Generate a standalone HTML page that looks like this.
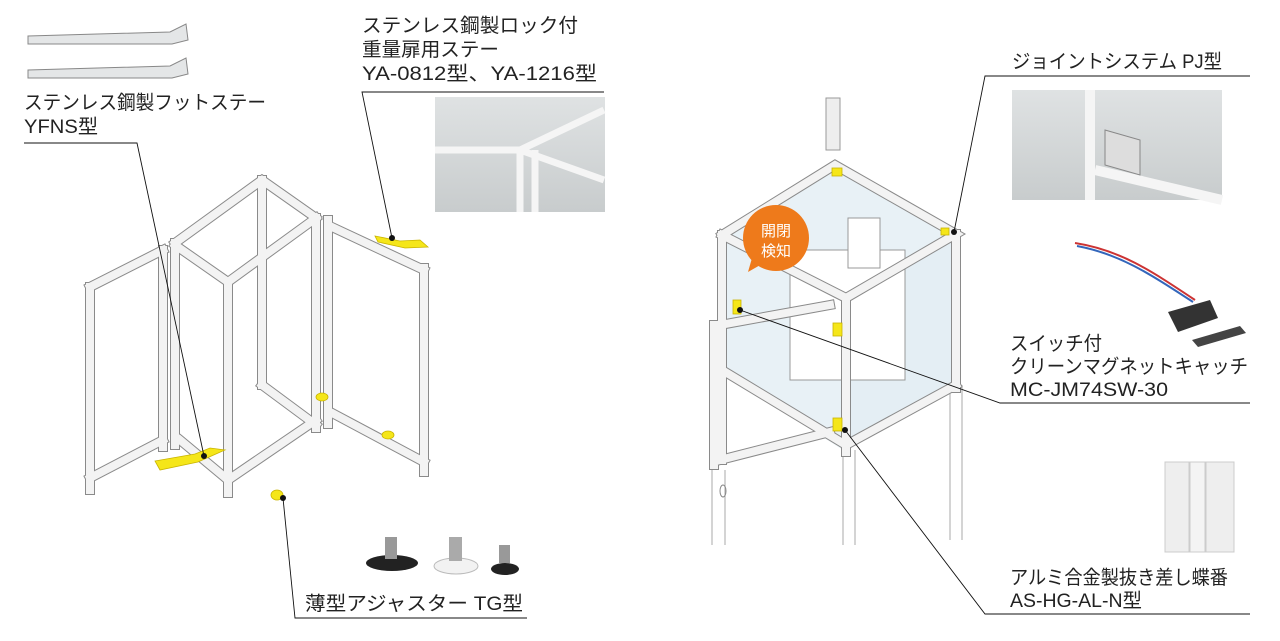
<!DOCTYPE html>
<html><head><meta charset="utf-8"><style>
html,body{margin:0;padding:0;background:#fff;width:1280px;height:641px;overflow:hidden}
svg{display:block}
text{font-family:"Liberation Sans","Noto Sans CJK JP",sans-serif;font-size:19.5px;fill:#222}
.b{stroke:#8a8a8a;stroke-width:10;stroke-linecap:square;fill:none}
.i{stroke:#f3f3f3;stroke-width:8;stroke-linecap:square;fill:none}
.s{stroke:#aaa;stroke-width:1;fill:none}
.l{stroke:#111;stroke-width:0.9;fill:none}
</style></head><body>
<svg width="1280" height="641" viewBox="0 0 1280 641">
<defs>
<linearGradient id="ph" x1="0" y1="0" x2="0" y2="1"><stop offset="0" stop-color="#dfe2e3"/><stop offset="1" stop-color="#c8cccd"/></linearGradient>
</defs>
<g stroke="#888" fill="#e4e6e7"><path d="M28 36 L170 32 L186 24 L188 40 L172 44 L28 44Z"/><path d="M28 70 L170 66 L186 58 L188 74 L172 78 L28 78Z"/></g>
<rect x="435" y="97" width="170" height="115" fill="url(#ph)"/>
<g stroke="#f5f5f5" stroke-width="7"><line x1="435" y1="150" x2="520" y2="150"/><line x1="520" y1="150" x2="604" y2="110"/><line x1="520" y1="150" x2="604" y2="180"/><line x1="520" y1="150" x2="520" y2="212"/><line x1="535" y1="150" x2="535" y2="212"/></g>
<g>
<path class="b" d="M90 287 L90 490 M163 250 L163 447 M175 243 L175 445 M228 282 L228 493 M262 180 L262 385 M316 218 L316 428 M328 220 L328 424 M424 268 L424 472 M90 287 L163 250 M90 478 L163 440 M175 243 L262 180 L316 218 M175 245 L228 282 L316 218 M180 440 L228 480 L316 420 M262 385 L316 425 M334 228 L424 270 M334 414 L424 462"/>
<path class="i" d="M90 287 L90 490 M163 250 L163 447 M175 243 L175 445 M228 282 L228 493 M262 180 L262 385 M316 218 L316 428 M328 220 L328 424 M424 268 L424 472 M90 287 L163 250 M90 478 L163 440 M175 243 L262 180 L316 218 M175 245 L228 282 L316 218 M180 440 L228 480 L316 420 M262 385 L316 425 M334 228 L424 270 M334 414 L424 462"/>
</g>
<g fill="#f5e619" stroke="#c9b400" stroke-width="0.8">
<path d="M375 236 L400 241 L420 240 L428 247 L405 248 L378 242Z"/>
<path d="M155 461 L195 454 L210 448 L225 450 L198 462 L160 470Z"/>
<ellipse cx="277" cy="495" rx="6" ry="5"/><ellipse cx="322" cy="397" rx="6" ry="4"/><ellipse cx="388" cy="435" rx="6" ry="4"/>
</g>
<ellipse cx="392" cy="563" rx="26" ry="8" fill="#222"/><rect x="385" y="537" width="12" height="22" fill="#999"/>
<ellipse cx="456" cy="566" rx="22" ry="8" fill="#f2f2f2" stroke="#bbb"/><rect x="449" y="537" width="13" height="24" fill="#aaa"/>
<ellipse cx="505" cy="569" rx="14" ry="6" fill="#222"/><rect x="499" y="545" width="11" height="18" fill="#999"/>
<path d="M718 233 L835 163 L958 232 L958 385 L843 450 L718 370Z" fill="#e8f1f6"/>
<path d="M843 296 L958 232 L958 385 L843 450Z" fill="#e4eef4"/>
<rect x="790" y="250" width="115" height="130" fill="#fff" stroke="#999"/>
<rect x="848" y="218" width="32" height="50" fill="#fff" stroke="#999"/>
<rect x="826" y="98" width="14" height="52" fill="#eee" stroke="#999"/>
<g class="s"><path d="M712 470 L712 545 M725 470 L725 545 M843 450 L843 545 M855 450 L855 545 M950 390 L950 540 M962 385 L962 540"/></g>
<ellipse cx="723" cy="491" rx="3" ry="6" fill="none" stroke="#888"/>
<g>
<path class="b" d="M722 235 L722 460 M846 298 L846 452 M956 234 L956 388 M722 235 L835 165 L956 234 L846 298 L722 235 M722 370 L846 445 L956 385 M714 325 L714 465 M720 325 L830 305 M720 460 L830 432"/>
<path class="i" d="M722 235 L722 460 M846 298 L846 452 M956 234 L956 388 M722 235 L835 165 L956 234 L846 298 L722 235 M722 370 L846 445 L956 385 M714 325 L714 465 M720 325 L830 305 M720 460 L830 432"/>
</g>
<g fill="#f5e619" stroke="#c9b400" stroke-width="0.8">
<rect x="832" y="168" width="10" height="8"/><rect x="733" y="300" width="8" height="14"/><rect x="833" y="323" width="9" height="13"/><rect x="833" y="418" width="9" height="13"/><rect x="941" y="228" width="8" height="7"/>
</g>
<circle cx="776" cy="238" r="33" fill="#ee7a1b"/><path d="M752 258 L748 272 L762 264Z" fill="#ee7a1b"/>
<text x="761" y="236" style="fill:#fff;font-size:15px">開閉</text><text x="761" y="256" style="fill:#fff;font-size:15px">検知</text>
<rect x="1012" y="90" width="210" height="110" fill="url(#ph)"/>
<g stroke="#f5f5f5" stroke-width="10"><line x1="1090" y1="90" x2="1090" y2="200"/><line x1="1095" y1="170" x2="1222" y2="200"/></g>
<path d="M1105 130 L1140 140 L1140 175 L1105 165Z" fill="#ddd" stroke="#888"/>
<path d="M1075 243 C1120 250 1150 270 1195 300" stroke="#c33" stroke-width="2" fill="none"/>
<path d="M1077 246 C1120 254 1150 274 1193 302" stroke="#36b" stroke-width="2" fill="none"/>
<path d="M1168 312 L1210 300 L1218 318 L1178 332Z" fill="#333"/>
<path d="M1192 340 L1240 326 L1246 333 L1198 347Z" fill="#444"/>
<rect x="1165" y="462" width="24" height="90" fill="#eee" stroke="#ccc"/><rect x="1190" y="462" width="15" height="90" fill="#f4f4f4" stroke="#ccc"/><rect x="1206" y="462" width="28" height="90" fill="#eee" stroke="#ccc"/>
<g class="l">
<path d="M604 92 L362 92 L392 238"/>
<path d="M24 143 L137 143 L204 456"/>
<path d="M527 618 L295 618 L283 498"/>
<path d="M1250 76 L985 76 L954 232"/>
<path d="M1250 403 L1000 403 L740 310"/>
<path d="M1250 614 L985 614 L845 430"/>
</g>
<g fill="#111"><circle cx="392" cy="238" r="3"/><circle cx="204" cy="456" r="3"/><circle cx="283" cy="498" r="3"/><circle cx="954" cy="232" r="3"/><circle cx="740" cy="310" r="3"/><circle cx="845" cy="430" r="3"/></g>
<text x="362" y="32" textLength="216" lengthAdjust="spacingAndGlyphs">ステンレス鋼製ロック付</text>
<text x="362" y="56" textLength="137" lengthAdjust="spacingAndGlyphs">重量扉用ステー</text>
<text x="362" y="80" textLength="235" lengthAdjust="spacingAndGlyphs">YA-0812型、YA-1216型</text>
<text x="24" y="109" textLength="242" lengthAdjust="spacingAndGlyphs">ステンレス鋼製フットステー</text>
<text x="24" y="133" textLength="74" lengthAdjust="spacingAndGlyphs">YFNS型</text>
<text x="305" y="610" textLength="218" lengthAdjust="spacingAndGlyphs">薄型アジャスター TG型</text>
<text x="1012" y="68" textLength="210" lengthAdjust="spacingAndGlyphs">ジョイントシステム PJ型</text>
<text x="1010" y="350" textLength="92" lengthAdjust="spacingAndGlyphs">スイッチ付</text>
<text x="1010" y="373" textLength="238" lengthAdjust="spacingAndGlyphs">クリーンマグネットキャッチ</text>
<text x="1010" y="396" textLength="158" lengthAdjust="spacingAndGlyphs">MC-JM74SW-30</text>
<text x="1010" y="584" textLength="218" lengthAdjust="spacingAndGlyphs">アルミ合金製抜き差し蝶番</text>
<text x="1010" y="607" textLength="132" lengthAdjust="spacingAndGlyphs">AS-HG-AL-N型</text>
</svg>
</body></html>
